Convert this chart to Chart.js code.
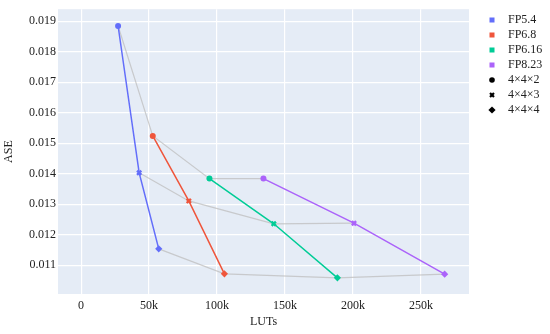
<!DOCTYPE html>
<html>
<head>
<meta charset="utf-8">
<script src="https://cdn.jsdelivr.net/npm/chart.js@4"></script>
<style>
  html, body { margin: 0; padding: 0; background: #fff; }
  #wrap { width: 550px; height: 334px; }
</style>
</head>
<body>
<div id="wrap"><canvas id="c" width="550" height="334"></canvas></div>
<script>
// formats and LUT configurations
const formats = ['FP5.4', 'FP6.8', 'FP6.16', 'FP8.23'];
const configs = ['4×4×2', '4×4×3', '4×4×4'];
const colors = ['#636efa', '#EF553B', '#00cc96', '#ab63fa'];
const markers = ['circle', 'crossRot', 'rectRot'];

// LUTs / ASE per format, one value per config
const fp54Luts = [27200, 42700, 57100];
const fp54Ase = [0.01884, 0.01403, 0.01154];
const fp68Luts = [52700, 79200, 105400];
const fp68Ase = [0.01524, 0.01311, 0.01072];
const fp616Luts = [94400, 141700, 188500];
const fp616Ase = [0.01384, 0.01236, 0.01059];
const fp823Luts = [134100, 200700, 267400];
const fp823Ase = [0.01384, 0.01238, 0.01071];

const xTicks = [0, 50000, 100000, 150000, 200000, 250000];
const yTicks = [0.011, 0.012, 0.013, 0.014, 0.015, 0.016, 0.017, 0.018, 0.019];

const allLuts = [fp54Luts, fp68Luts, fp616Luts, fp823Luts];
const allAse = [fp54Ase, fp68Ase, fp616Ase, fp823Ase];

const pts = (xs, ys) => xs.map((x, i) => ({ x: x, y: ys[i] }));

const datasets = [];
// grey lines joining the same config across formats
configs.forEach((cfg, j) => {
  datasets.push({
    label: cfg + ' link',
    data: allLuts.map((xs, k) => ({ x: xs[j], y: allAse[k][j] })),
    showLine: true,
    borderColor: 'rgba(190,190,190,0.75)',
    borderWidth: 1.2,
    pointRadius: 0,
    order: 10
  });
});
formats.forEach((f, k) => {
  datasets.push({
    label: f,
    data: pts(allLuts[k], allAse[k]),
    showLine: true,
    borderColor: colors[k],
    backgroundColor: colors[k],
    borderWidth: 1.5,
    pointStyle: markers,
    pointRadius: [3, 3, 3.6],
    pointBorderWidth: [0, 2.4, 0],
    order: 1
  });
});

const serif = '"Liberation Serif", "DejaVu Serif", serif';

// legend drawn at fixed spots right of the plot
const legendPlugin = {
  id: 'sideLegend',
  afterDraw(chart) {
    const ctx = chart.ctx;
    const x0 = 492, tx = 508;
    ctx.save();
    ctx.font = '12px ' + serif;
    ctx.textBaseline = 'middle';
    formats.forEach((f, k) => {
      const y = 20 + k * 15;
      ctx.fillStyle = colors[k];
      ctx.fillRect(x0 - 2.5, y - 2.5, 5, 5);
      ctx.fillStyle = '#222';
      ctx.fillText(f, tx, y);
    });
    configs.forEach((c, j) => {
      const y = 80 + j * 15;
      ctx.fillStyle = '#000';
      ctx.strokeStyle = '#000';
      ctx.lineWidth = j === 1 ? 2.2 : 0;
      Chart.helpers.drawPoint(ctx, {
        pointStyle: markers[j], radius: j === 2 ? 3.6 : 2.8, rotation: 0,
        borderWidth: j === 1 ? 2.2 : 0
      }, x0, y);
      ctx.fillStyle = '#222';
      ctx.fillText(c, tx, y);
    });
    ctx.restore();
  }
};

// plot background
const bgPlugin = {
  id: 'plotBg',
  beforeDraw(chart) {
    const a = chart.chartArea;
    chart.ctx.save();
    chart.ctx.fillStyle = '#e5ecf6';
    chart.ctx.fillRect(a.left, a.top, a.right - a.left, a.bottom - a.top);
    chart.ctx.restore();
  }
};

Chart.defaults.font.family = serif;
Chart.defaults.color = '#222';

new Chart(document.getElementById('c'), {
  type: 'scatter',
  data: { datasets: datasets },
  options: {
    responsive: false,
    animation: false,
    layout: { padding: { top: 7, right: 81, left: 0, bottom: 0 } },
    plugins: { legend: { display: false }, tooltip: { enabled: false } },
    scales: {
      x: {
        min: -17000,
        max: 285300,
        afterBuildTicks: (s) => { s.ticks = xTicks.map(v => ({ value: v })); },
        afterFit: (s) => { s.height = 40; },
        grid: { color: '#ffffff', lineWidth: 1.2, drawTicks: false },
        border: { display: false },
        ticks: {
          padding: 5,
          font: { size: 12 },
          color: '#222',
          callback: (v) => v === 0 ? '0' : (v / 1000) + 'k'
        },
        title: { display: true, text: 'LUTs', font: { size: 12 }, color: '#222', padding: { top: 4, bottom: 5 } }
      },
      y: {
        min: 0.01006,
        max: 0.01939,
        afterBuildTicks: (s) => { s.ticks = yTicks.map(v => ({ value: v })); },
        afterFit: (s) => { s.width = 58; },
        grid: { color: '#ffffff', lineWidth: 1.2, drawTicks: false },
        border: { display: false },
        ticks: {
          padding: 2,
          font: { size: 12 },
          color: '#222',
          callback: (v) => v.toFixed(3)
        },
        title: { display: true, text: 'ASE', font: { size: 12 }, color: '#222', padding: { top: 2, bottom: 2 } }
      }
    }
  },
  plugins: [bgPlugin, legendPlugin]
});
</script>
</body>
</html>
